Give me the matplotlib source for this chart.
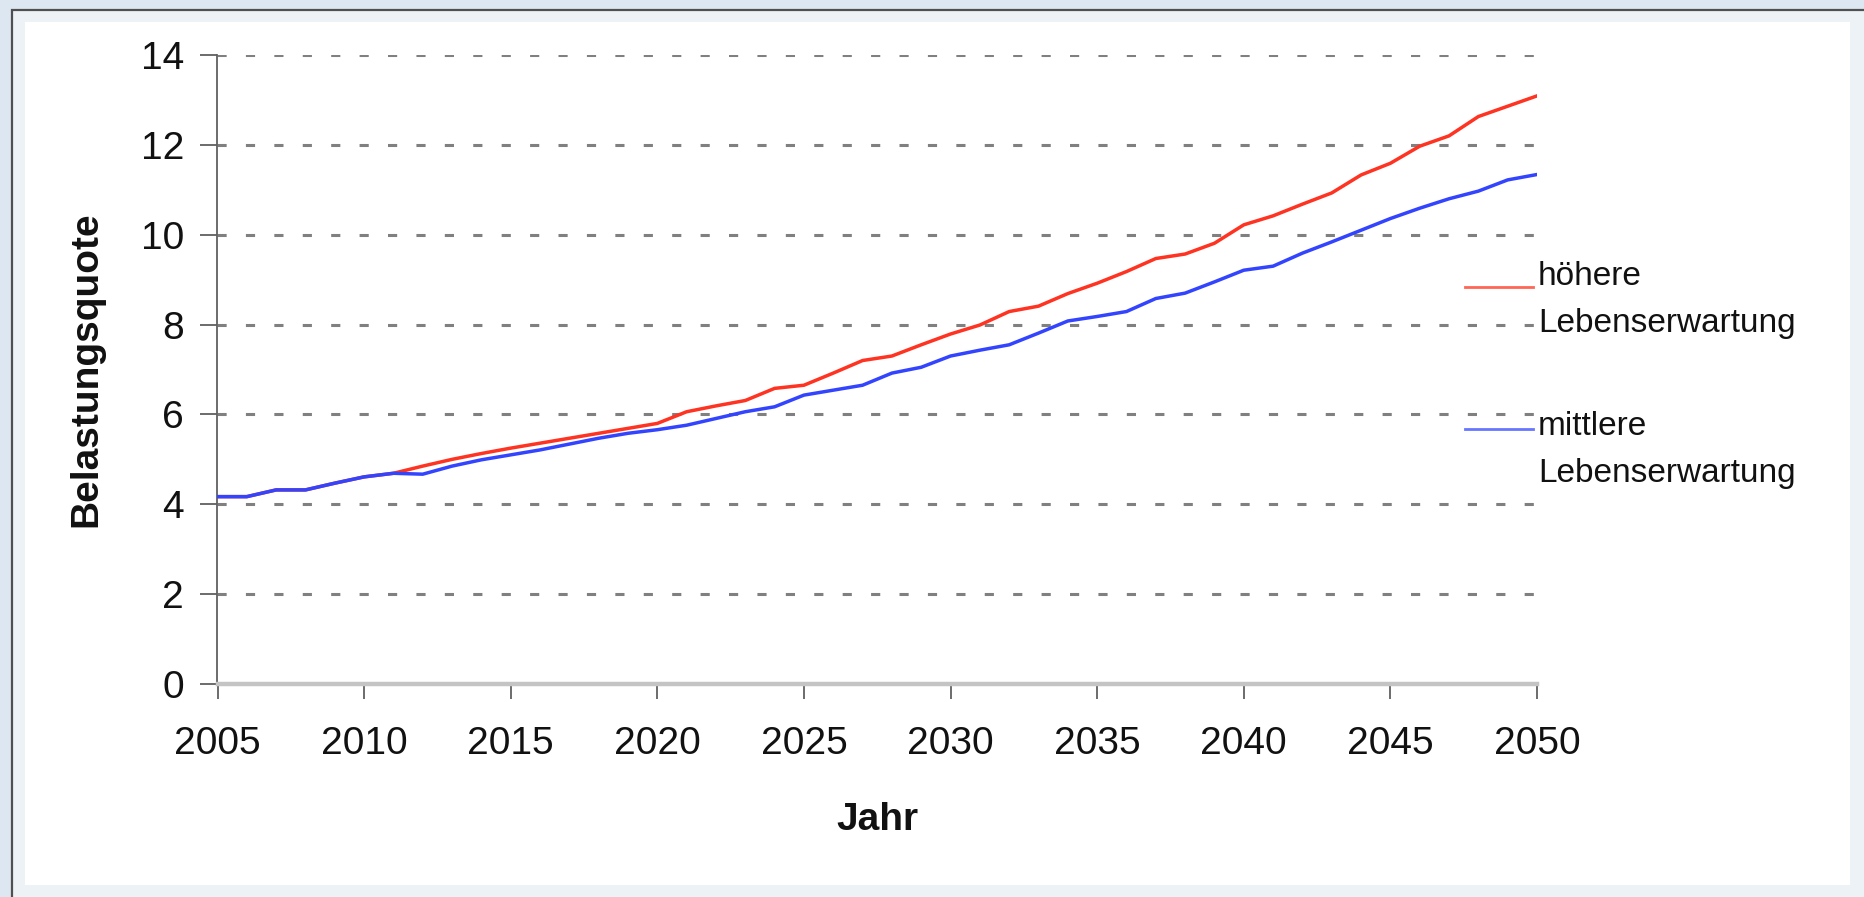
import numpy as np
import matplotlib
matplotlib.use('Agg')
import matplotlib.pyplot as plt
from matplotlib.patches import Rectangle
from matplotlib.lines import Line2D

# Data (Belastungsquote per Jahr)
years = list(range(2005, 2051))
hoehere = [4.17, 4.17, 4.32, 4.32, 4.47, 4.61, 4.69, 4.85, 5.00, 5.13,
           5.25, 5.36, 5.47, 5.58, 5.69, 5.80, 6.06, 6.19, 6.31, 6.58,
           6.65, 6.92, 7.20, 7.30, 7.55, 7.79, 7.99, 8.29, 8.41, 8.69,
           8.92, 9.18, 9.47, 9.57, 9.81, 10.22, 10.42, 10.68, 10.93, 11.33,
           11.59, 11.97, 12.20, 12.63, 12.86, 13.09]
mittlere = [4.17, 4.17, 4.32, 4.32, 4.47, 4.61, 4.69, 4.67, 4.85, 4.99,
            5.10, 5.21, 5.34, 5.47, 5.58, 5.66, 5.76, 5.91, 6.06, 6.17,
            6.43, 6.54, 6.65, 6.92, 7.05, 7.30, 7.43, 7.55, 7.81, 8.08,
            8.18, 8.29, 8.58, 8.70, 8.95, 9.21, 9.30, 9.59, 9.84, 10.10,
            10.36, 10.59, 10.80, 10.97, 11.22, 11.34]
labels = ['höhere\nLebenserwartung', 'mittlere\nLebenserwartung']
xticks = list(range(2005, 2051, 5))
yticks = list(range(0, 15, 2))

W, H = 1865, 897
plt.rcParams['font.family'] = ['Liberation Sans', 'DejaVu Sans']

fig = plt.figure(figsize=(W / 100, H / 100), dpi=100)
fig.patch.set_facecolor('#dde7f1')


def fx(x):
    return x / W


def fy(y):
    return 1 - y / H


# frame: dark line, pale blue band, white panel (behind the axes)
fig.add_artist(Rectangle((fx(12), fy(H + 20)), fx(W + 20 - 12), fy(10) - fy(H + 20),
                         transform=fig.transFigure, facecolor='#edf2f7',
                         edgecolor='#505050', linewidth=1.6, zorder=-2))
fig.add_artist(Rectangle((fx(25), fy(885)), fx(1850 - 25), fy(22) - fy(885),
                         transform=fig.transFigure, facecolor='white',
                         edgecolor='none', zorder=-1))

ax = fig.add_axes([fx(217.5), fy(684), fx(1537 - 217.5), fy(55) - fy(684)])
ax.set_facecolor('none')

ax.plot(years, hoehere, color='#ff3322', linewidth=2.5, zorder=3)
ax.plot(years, mittlere, color='#3344ff', linewidth=2.5, zorder=4)

ax.set_xlim(2005, 2050)
ax.set_ylim(0, 14)
ax.set_xticks(xticks)
ax.set_yticks(yticks)

# dashed horizontal grid
for v in yticks[1:]:
    ax.axhline(v, color='#808080', linewidth=2.2, linestyle=(0, (3.0, 6.3)),
               zorder=1)

for s in ['top', 'right']:
    ax.spines[s].set_visible(False)
ax.spines['left'].set_color('#606060')
ax.spines['left'].set_linewidth(1.3)
ax.spines['bottom'].set_color('#c4c4c4')
ax.spines['bottom'].set_linewidth(3.2)

ax.tick_params(axis='y', direction='out', length=12, width=1.3, color='#606060',
               pad=12, labelsize=28, labelcolor='#111111')
ax.tick_params(axis='x', direction='out', length=11, width=1.3, color='#606060',
               pad=19, labelsize=28, labelcolor='#111111')

ax.set_xlabel('Jahr', fontsize=28, fontweight='bold', labelpad=29, color='#111111')
ax.set_ylabel('Belastungsquote', fontsize=28, fontweight='bold', labelpad=26,
              color='#111111')

# legend drawn to the right of the plot
legend_rows = [(287, 285, '#ff6655'), (429, 435, '#6677ff')]
for (ly, base, col), lab in zip(legend_rows, labels):
    fig.add_artist(Line2D([fx(1465), fx(1533)], [fy(ly), fy(ly)],
                          transform=fig.transFigure, color=col, linewidth=2.0))
    first, second = lab.split('\n')
    fig.text(fx(1538), fy(base), first, fontsize=24, va='baseline', ha='left',
             color='#111111')
    fig.text(fx(1538), fy(base + 47), second, fontsize=24, va='baseline',
             ha='left', color='#111111')

fig.savefig('out.png', dpi=100, facecolor=fig.get_facecolor())
